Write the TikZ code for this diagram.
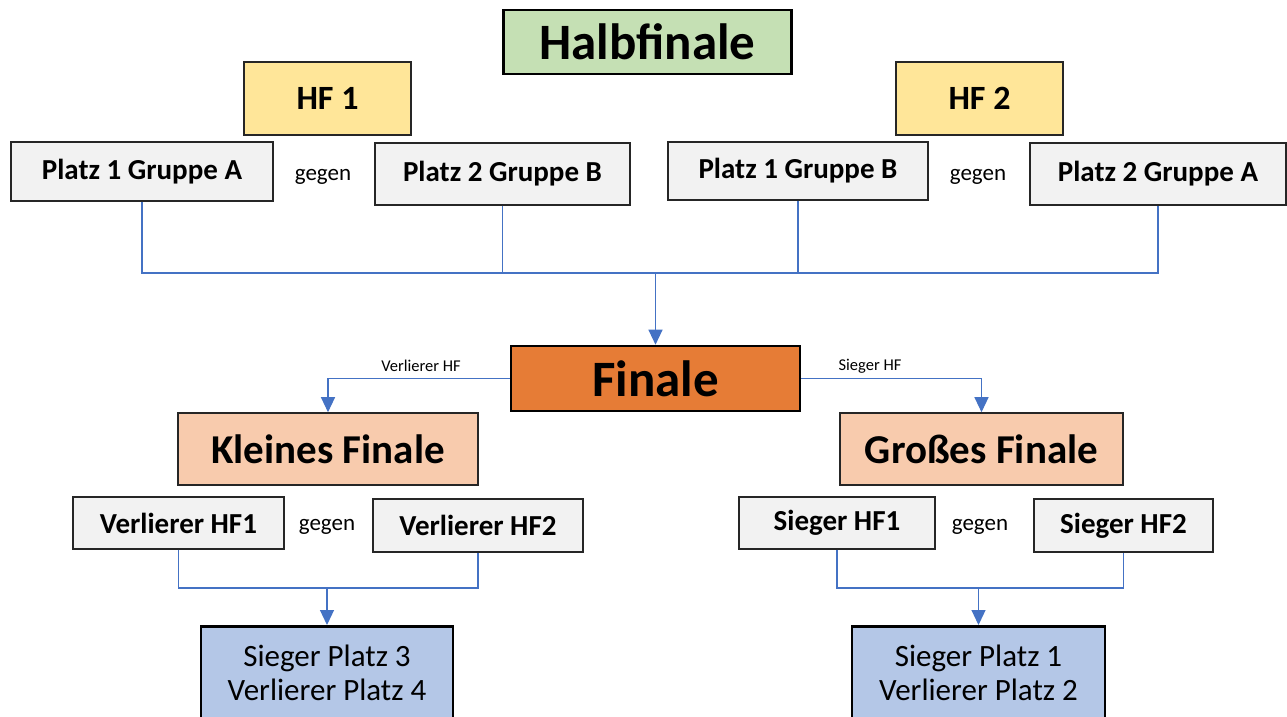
\documentclass[tikz,border=0pt]{standalone}
\usepackage{fontspec}
\setmainfont{Carlito}
\usetikzlibrary{arrows.meta}
\definecolor{cgreen}{HTML}{C5E0B4}
\definecolor{cyellow}{HTML}{FFE699}
\definecolor{corange}{HTML}{E67C36}
\definecolor{cpeach}{HTML}{F8CBAD}
\definecolor{cblue}{HTML}{B4C7E7}
\definecolor{cgray}{HTML}{F2F2F2}
\definecolor{cline}{HTML}{4472C4}
\newcommand{\fs}[1]{\fontsize{#1}{#1}\selectfont}
\tikzset{
  boxbase/.style={rectangle, inner sep=0pt, align=center},
  titlebox/.style={boxbase, draw=black, line width=2.6pt, font=\bfseries\fs{51}},
  hfbox/.style={boxbase, draw=black!85, line width=1.6pt, fill=cyellow, font=\bfseries\fs{34}},
  teambox/.style={boxbase, draw=black!85, line width=1.4pt, fill=cgray, font=\bfseries\fs{29}},
  subbox/.style={boxbase, draw=black!85, line width=1.6pt, fill=cpeach, font=\bfseries\fs{41}},
  resbox/.style={boxbase, draw=black, line width=2.6pt, fill=cblue},
  restext/.style={inner sep=0pt, font=\fs{31}, align=center},
  gegen/.style={inner sep=0pt, font=\fs{23}},
  smalllab/.style={inner sep=0pt, font=\fs{16.5}},
  conn/.style={draw=cline, line width=1.2pt},
  arr/.style={conn, -{Triangle[length=15pt,width=14pt]}}
}
\begin{document}
\begin{tikzpicture}[x=1pt,y=-1pt]
\useasboundingbox (0,0) rectangle (1287,716);
\clip (0,0) rectangle (1287,716);
\fill[white] (0,0) rectangle (1287,716);
% title boxes
\node[titlebox, fill=cgreen, minimum width=288pt, minimum height=64pt] (halb) at (647.5,42) {Halbfinale};
\node[hfbox, minimum width=167pt, minimum height=73pt] (hf1) at (327.5,98.5) {HF 1};
\node[hfbox, minimum width=167pt, minimum height=73pt] (hf2) at (979.5,98.5) {HF 2};
% semifinal teams
\node[teambox, minimum width=262pt, minimum height=59pt] (p1ga) at (142,171.5) {Platz 1 Gruppe A};
\node[gegen] (g1) at (323,177) {gegen};
\node[teambox, minimum width=255pt, minimum height=62pt] (p2gb) at (502.5,174) {Platz 2 Gruppe B};
\node[teambox, minimum width=260pt, minimum height=58pt] (p1gb) at (798,171) {Platz 1 Gruppe B};
\node[gegen] (g2) at (978,177) {gegen};
\node[teambox, minimum width=256pt, minimum height=62pt] (p2ga) at (1158,174) {Platz 2 Gruppe A};
% final
\node[titlebox, fill=corange, minimum width=289pt, minimum height=65pt] (fin) at (655.5,378.5) {Finale};
\coordinate (hj) at (657,273);
\draw[conn] (p1ga.south) -- (p1ga.south |- hj) -- (p2ga.south |- hj) -- (p2ga.south);
\draw[conn] (p2gb.south) -- (p2gb.south |- hj);
\draw[conn] (p1gb.south) -- (p1gb.south |- hj);
\draw[arr] (fin.north |- hj) -- (fin.north);
% small / big final
\node[subbox, minimum width=300pt, minimum height=72pt] (kf) at (328,449) {Kleines Finale};
\node[subbox, minimum width=283pt, minimum height=72pt] (gf) at (981.5,449) {Großes Finale};
\draw[arr] (fin.west) -| (kf.north);
\draw[arr] (fin.east) -| (gf.north);
\node[smalllab] (lv) at (421,366) {Verlierer HF};
\node[smalllab] (ls) at (870,366) {Sieger HF};
% small final teams
\node[teambox, minimum width=211pt, minimum height=52pt] (vhf1) at (178.5,523) {Verlierer HF1};
\node[gegen] (g3) at (327,527) {gegen};
\node[teambox, minimum width=210pt, minimum height=53pt] (vhf2) at (478,525.5) {Verlierer HF2};
\node[teambox, minimum width=196pt, minimum height=52pt] (shf1) at (837,523) {Sieger HF1};
\node[gegen] (g4) at (980,527) {gegen};
\node[teambox, minimum width=179pt, minimum height=53pt] (shf2) at (1123.5,525.5) {Sieger HF2};
% results
\node[resbox, anchor=north, minimum width=252pt, minimum height=110pt] (r34) at (327,625) {};
\node[resbox, anchor=north, minimum width=253pt, minimum height=110pt] (r12) at (978.5,625) {};
\node[restext] (t34) at (327,673) {Sieger Platz 3\\[3pt]Verlierer Platz 4};
\node[restext] (t12) at (978.5,673) {Sieger Platz 1\\[3pt]Verlierer Platz 2};
\coordinate (bj1) at (327,588);
\coordinate (bj2) at (978.5,588);
\draw[conn] (vhf1.south) -- (vhf1.south |- bj1) -- (vhf2.south |- bj1) -- (vhf2.south);
\draw[arr] (bj1) -- (r34.north);
\draw[conn] (shf1.south) -- (shf1.south |- bj2) -- (shf2.south |- bj2) -- (shf2.south);
\draw[arr] (bj2) -- (r12.north);
\end{tikzpicture}
\end{document}
